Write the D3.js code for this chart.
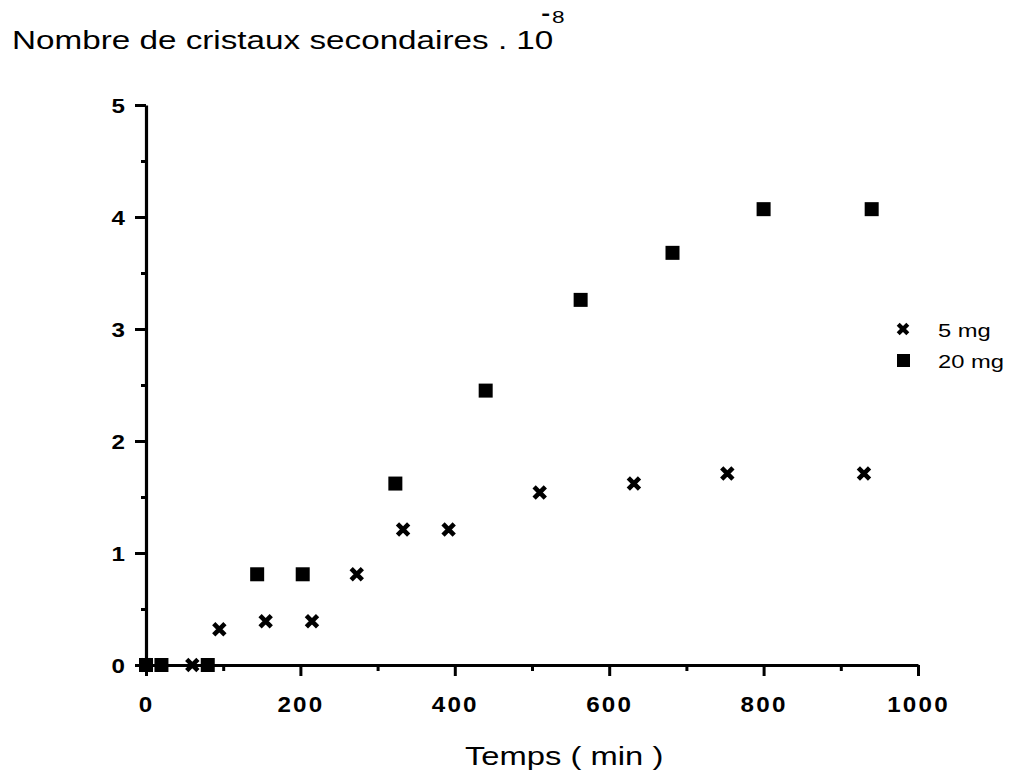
<!DOCTYPE html>
<html>
<head>
<meta charset="utf-8">
<script src="https://cdn.jsdelivr.net/npm/d3@7"></script>
<style>
  html, body { margin: 0; padding: 0; background: #fff; }
  svg { display: block; }
  text { font-family: "Liberation Sans", Arial, Helvetica, sans-serif; fill: #000; }
</style>
</head>
<body>
<svg id="chart" width="1014" height="781"></svg>
<script>
// ---- data ----
const time5mg   = [0, 60, 95, 155, 215, 273, 333, 392, 510, 632, 753, 930];
const count5mg  = [0, 0, 0.32, 0.39, 0.39, 0.81, 1.21, 1.21, 1.54, 1.62, 1.71, 1.71];
const time20mg  = [0, 20, 80, 144, 203, 323, 440, 563, 682, 800, 940];
const count20mg = [0, 0, 0, 0.81, 0.81, 1.62, 2.45, 3.26, 3.68, 4.07, 4.07];
const xTicks = [0, 200, 400, 600, 800, 1000];
const xMinor = [100, 300, 500, 700, 900];
const yTicks = [0, 1, 2, 3, 4, 5];
const yMinor = [0.5, 1.5, 2.5, 3.5, 4.5];
const seriesNames = ["5 mg", "20 mg"];
const titleText = "Nombre de cristaux secondaires . 10";
const titleExp = "8";
const xTitle = "Temps ( min )";

const svg = d3.select("#chart");
const ox = 146, oy = 665;
const x = d3.scaleLinear().domain([0, 1000]).range([ox, 918]);
const y = d3.scaleLinear().domain([0, 5]).range([oy, 105]);

// axes
const gy = svg.append("g").attr("transform", `translate(${ox},0)`);
gy.call(d3.axisLeft(y).tickValues(yTicks).tickSize(11).tickSizeOuter(0).tickFormat(d3.format("d")));
const gym = svg.append("g").attr("transform", `translate(${ox},0)`);
gym.call(d3.axisLeft(y).tickValues(yMinor).tickSize(5).tickSizeOuter(0).tickFormat(""));
gym.select(".domain").remove();

const gx = svg.append("g").attr("transform", `translate(0,${oy})`);
gx.call(d3.axisBottom(x).tickValues(xTicks).tickSize(11).tickSizeOuter(0).tickFormat(d3.format("d")));
const gxm = svg.append("g").attr("transform", `translate(0,${oy})`);
gxm.call(d3.axisBottom(x).tickValues(xMinor).tickSize(6).tickSizeOuter(0).tickFormat(""));
gxm.select(".domain").remove();

svg.selectAll(".domain").attr("stroke", "#000").attr("stroke-width", 3.2);
svg.selectAll(".tick line").attr("stroke", "#000").attr("stroke-width", 3);

gy.selectAll(".tick text")
  .attr("font-size", 21).attr("font-weight", "bold")
  .attr("font-family", "Liberation Sans, Arial, sans-serif")
  .attr("x", -21 / 1.15).attr("dy", "0.36em")
  .attr("transform", `scale(1.15,1)`);
gx.selectAll(".tick text")
  .attr("font-size", 22).attr("font-weight", "bold")
  .attr("font-family", "Liberation Sans, Arial, sans-serif")
  .attr("y", 47).attr("dy", 0)
  .attr("text-anchor", "middle")
  .attr("style", "letter-spacing:2px")
  .attr("transform", `scale(1.1,1)`);

// series
const pts5 = time5mg.map((t, i) => ({ t, v: count5mg[i] }));
const pts20 = time20mg.map((t, i) => ({ t, v: count20mg[i] }));

const crossPath = s => `M${-s},${-s}L${s},${s}M${-s},${s}L${s},${-s}`;

svg.append("g").selectAll("rect").data(pts20).join("rect")
  .attr("x", d => x(d.t) - 7).attr("y", d => y(d.v) - 7)
  .attr("width", 14).attr("height", 14).attr("fill", "#000");

svg.append("g").selectAll("path").data(pts5).join("path")
  .attr("transform", d => `translate(${x(d.t)},${y(d.v)})`)
  .attr("d", crossPath(5.6))
  .attr("stroke", "#000").attr("stroke-width", 4.6).attr("fill", "none");

// legend
const lg = svg.append("g");
lg.append("path").attr("transform", "translate(903,329)").attr("d", crossPath(4.8))
  .attr("stroke", "#000").attr("stroke-width", 4.2).attr("fill", "none");
lg.append("rect").attr("x", 897).attr("y", 354).attr("width", 13).attr("height", 13).attr("fill", "#000");
lg.selectAll("text").data(seriesNames).join("text")
  .attr("transform", (d, i) => `translate(938,${337 + i * 31}) scale(1.32,1)`)
  .attr("font-size", 18).text(d => d);

// title
const tg = svg.append("g").attr("transform", `translate(12,49) scale(1.33,1)`);
const tt = tg.append("text").attr("font-size", 25).text(titleText);
const tw = tt.node().getComputedTextLength();
tg.append("text").attr("x", tw - 9).attr("y", -29).attr("font-size", 20).attr("font-weight", "bold").text("-");
tg.append("text").attr("x", tw - 1).attr("y", -26).attr("font-size", 17).text(titleExp);

// x axis title
svg.append("text")
  .attr("transform", `translate(465,765) scale(1.31,1)`)
  .attr("font-size", 25).text(xTitle);
</script>
</body>
</html>
